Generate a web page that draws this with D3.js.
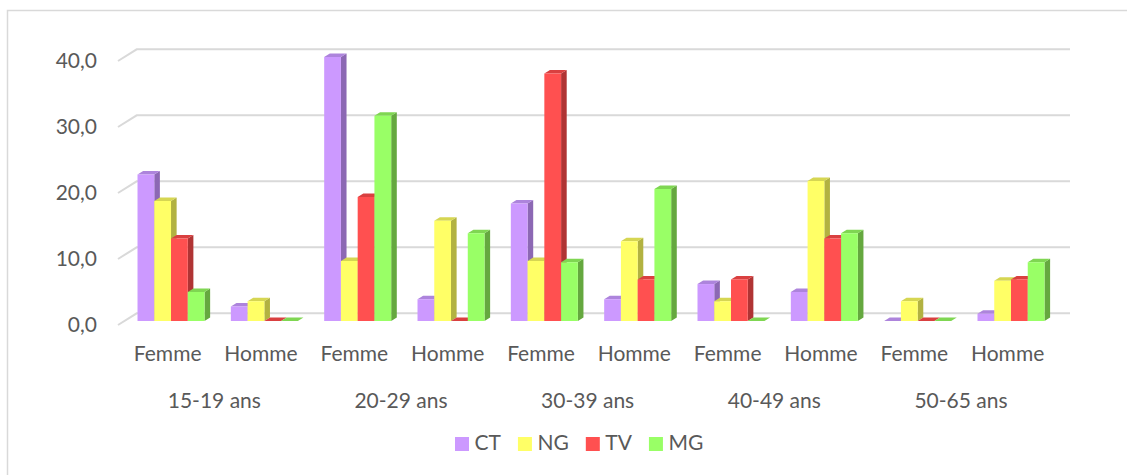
<!DOCTYPE html>
<html>
<head>
<meta charset="utf-8">
<script src="https://cdn.jsdelivr.net/npm/d3@7"></script>
<style>
  html, body { margin: 0; padding: 0; background: #fff; }
  svg { display: block; font-family: Lato, "Open Sans", sans-serif; }
</style>
</head>
<body>
<svg id="chart" width="1127" height="475"></svg>
<script>
// Data
const ageGroups = ["15-19 ans", "20-29 ans", "30-39 ans", "40-49 ans", "50-65 ans"];
const sexes = ["Femme", "Homme"];
const seriesNames = ["CT", "NG", "TV", "MG"];
const ctValues = [22.2, 2.2, 40.0, 3.3, 17.8, 3.3, 5.6, 4.4, 0, 1.1];
const ngValues = [18.2, 3.0, 9.1, 15.2, 9.1, 12.1, 3.0, 21.2, 3.0, 6.1];
const tvValues = [12.5, 0, 18.8, 0, 37.5, 6.3, 6.3, 12.5, 0, 6.3];
const mgValues = [4.4, 0, 31.1, 13.3, 8.9, 20.0, 0, 13.3, 0, 8.9];
const yTicks = [0, 10, 20, 30, 40];

const seriesValues = [ctValues, ngValues, tvValues, mgValues];

// colours: front, side, top
const palette = {
  CT: ["#cc99ff", "#8c68b4", "#ad84dc"],
  NG: ["#ffff66", "#b2b241", "#d6d652"],
  TV: ["#ff5050", "#b03434", "#d94040"],
  MG: ["#99ff66", "#65a83f", "#7fd652"]
};

const svg = d3.select("#chart");

// 3d projection: depth z in [0,1] shifts points up and to the right
const depthX = 18.7, depthY = -11.7;
const proj = (x, y, z) => [x + depthX * z, y + depthY * z];
const barZ0 = 0.34, barZ1 = 0.64;

// categories: one per age group and sex
const cats = [];
ageGroups.forEach(a => sexes.forEach(s => cats.push(a + "|" + s)));

const x0 = d3.scaleBand().domain(cats).range([118, 1051.3]).paddingInner(0.282).paddingOuter(0.141);
const x1 = d3.scaleBand().domain(seriesNames).range([0, x0.bandwidth()]);
const y = d3.scaleLinear().domain([0, 40]).range([325, 61]);

// chart frame
svg.append("rect")
  .attr("x", 7.5).attr("y", 10.5)
  .attr("width", 1140).attr("height", 480)
  .attr("fill", "none").attr("stroke", "#d9d9d9").attr("stroke-width", 1.5);

// gridlines: back wall plus side wall diagonal
const grid = svg.append("g").attr("stroke", "#d9d9d9").attr("stroke-width", 2).attr("fill", "none");
yTicks.forEach(t => {
  const a = proj(118, y(t), 0), b = proj(118, y(t), 1), c = proj(1051.3, y(t), 1);
  grid.append("path").attr("d", d3.line()([a, b, c]));
});

// y tick labels
svg.append("g")
  .selectAll("text")
  .data(yTicks)
  .join("text")
  .attr("x", 97)
  .attr("y", d => y(d) + 2)
  .attr("text-anchor", "end")
  .attr("dominant-baseline", "middle")
  .attr("font-size", 21)
  .attr("fill", "#595959")
  .text(d => d3.format(".1f")(d).replace(".", ","));

// bars
const bars = svg.append("g");
cats.forEach((cat, ci) => {
  seriesNames.forEach((name, si) => {
    const v = seriesValues[si][ci];
    const xl = x0(cat) + x1(name), xr = xl + x1.bandwidth();
    const yt = y(v), yb = y(0);
    const [front, side, top] = palette[name];
    const poly = pts => "M" + pts.map(p => p.join(",")).join("L") + "Z";
    bars.append("path").attr("fill", side)
      .attr("d", poly([proj(xr, yt, barZ0), proj(xr, yt, barZ1), proj(xr, yb, barZ1), proj(xr, yb, barZ0)]));
    bars.append("path").attr("fill", top)
      .attr("d", poly([proj(xl, yt, barZ0), proj(xr, yt, barZ0), proj(xr, yt, barZ1), proj(xl, yt, barZ1)]));
    if (v > 0) {
      bars.append("path").attr("fill", front)
        .attr("d", poly([proj(xl, yt, barZ0), proj(xr, yt, barZ0), proj(xr, yb, barZ0), proj(xl, yb, barZ0)]));
    }
  });
});

// category labels
svg.append("g")
  .selectAll("text")
  .data(cats)
  .join("text")
  .attr("x", d => x0(d) + x0.bandwidth() / 2 + 3)
  .attr("y", 356)
  .attr("text-anchor", "middle")
  .attr("dominant-baseline", "middle")
  .attr("font-size", 21)
  .attr("fill", "#595959")
  .text(d => d.split("|")[1]);

svg.append("g")
  .selectAll("text")
  .data(ageGroups)
  .join("text")
  .attr("x", (d, i) => (x0(cats[i * 2]) + x0(cats[i * 2 + 1]) + x0.bandwidth()) / 2 + 3)
  .attr("y", 403)
  .attr("text-anchor", "middle")
  .attr("dominant-baseline", "middle")
  .attr("font-size", 21)
  .attr("fill", "#595959")
  .text(d => d);

// legend
const legend = svg.append("g");
let lx = 455;
seriesNames.forEach(name => {
  legend.append("rect")
    .attr("x", lx).attr("y", 437).attr("width", 14).attr("height", 14)
    .attr("fill", palette[name][0]);
  const t = legend.append("text")
    .attr("x", lx + 19.5).attr("y", 445)
    .attr("dominant-baseline", "middle")
    .attr("font-size", 21)
    .attr("fill", "#595959")
    .text(name);
  lx += 19.5 + t.node().getComputedTextLength() + 17;
});
</script>
</body>
</html>
